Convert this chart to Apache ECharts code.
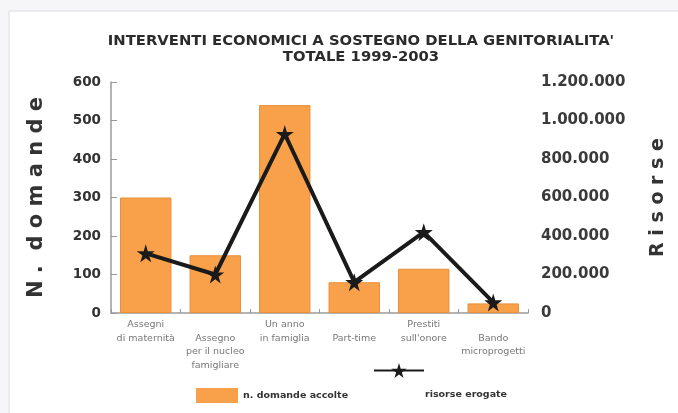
<!DOCTYPE html>
<html>
<head>
<meta charset="utf-8">
<script src="https://cdn.jsdelivr.net/npm/echarts@6/dist/echarts.min.js"></script>
<style>
  html, body { margin: 0; padding: 0; background: #f6f6f9; }
  #chart { width: 678px; height: 413px; }
</style>
</head>
<body>
<div id="chart"></div>
<script>
// Interventi economici a sostegno della genitorialità, totale 1999-2003
const categories = [
  'Assegni\ndi maternità',
  '\nAssegno\nper il nucleo\nfamigliare',
  'Un anno\nin famiglia',
  '\nPart-time',
  'Prestiti\nsull\'onore',
  '\nBando\nmicroprogetti'
];
const domandeAccolte = [300, 150, 540, 80, 115, 25];
const risorseErogate = [310000, 200000, 930000, 160000, 420000, 55000];
const leftTicks = { min: 0, max: 600, interval: 100 };
const rightTicks = { min: 0, max: 1200000, interval: 200000 };

const STAR = 'path://M50,0 L61,35 L98,35 L68,57 L79,91 L50,70 L21,91 L32,57 L2,35 L39,35 Z';
const FONT = 'DejaVu Sans';

function thousands(v) {
  return String(v).replace(/\B(?=(\d{3})+(?!\d))/g, '.');
}

const chart = echarts.init(document.getElementById('chart'));
chart.setOption({
  animation: false,
  backgroundColor: 'transparent',
  title: {
    text: "INTERVENTI ECONOMICI A SOSTEGNO DELLA GENITORIALITA'\nTOTALE 1999-2003",
    left: 356, top: 28, textAlign: 'center',
    textStyle: { fontFamily: FONT, fontWeight: 'bold', fontSize: 14.8, color: '#2b2b2b', lineHeight: 16 }
  },
  graphic: [
    { type: 'rect', z: -10, shape: { x: 9, y: 11, width: 700, height: 420 },
      style: { fill: '#ffffff', stroke: '#dadae2', lineWidth: 1 } },
    { type: 'text', left: 425, top: 390, z: 10,
      style: { text: 'risorse erogate', fontFamily: FONT, fontWeight: 'bold', fontSize: 9.5, fill: '#333' } }
  ],
  legend: [
    {
      data: [{ name: 'n. domande accolte', icon: 'rect', itemStyle: { borderWidth: 0 } }],
      left: 191, top: 383,
      itemWidth: 42, itemHeight: 15, itemGap: 6,
      textStyle: { fontFamily: FONT, fontWeight: 'bold', fontSize: 9.5, color: '#333' }
    },
    {
      data: ['risorse erogate'], left: 368, top: 356,
      itemWidth: 50, itemHeight: 19,
      formatter: () => ''
    }
  ],
  grid: { left: 111, right: 150, top: 82, bottom: 100, outerBoundsMode: 'none', containLabel: false },
  xAxis: {
    type: 'category', data: categories,
    axisLine: { lineStyle: { color: '#9a9a9a', width: 1.5 } },
    axisTick: { show: true, inside: true, length: 4, lineStyle: { color: '#9a9a9a' } },
    axisLabel: { fontFamily: FONT, fontSize: 9.5, color: '#777', lineHeight: 13.5, margin: 5, interval: 0 }
  },
  yAxis: [
    {
      type: 'value', min: leftTicks.min, max: leftTicks.max, interval: leftTicks.interval,
      name: 'N .  d o m a n d e', nameLocation: 'middle', nameGap: 64, nameRotate: 90,
      nameTextStyle: { fontFamily: FONT, fontWeight: 'bold', fontSize: 21, color: '#333' },
      axisLine: { show: true, lineStyle: { color: '#9a9a9a', width: 1.5 } },
      axisTick: { show: true, inside: true, length: 6, lineStyle: { color: '#9a9a9a' } },
      splitLine: { show: false },
      axisLabel: { fontFamily: FONT, fontWeight: 'bold', fontSize: 13.5, color: '#333', margin: 10 }
    },
    {
      type: 'value', min: rightTicks.min, max: rightTicks.max, interval: rightTicks.interval,
      name: 'R i s o r s e', nameLocation: 'middle', nameGap: 121, nameRotate: 90,
      nameTextStyle: { fontFamily: FONT, fontWeight: 'bold', fontSize: 19, color: '#333' },
      axisLine: { show: false }, axisTick: { show: false }, splitLine: { show: false },
      axisLabel: { fontFamily: FONT, fontWeight: 'bold', fontSize: 15, color: '#3a3a3a', margin: 13,
                   formatter: thousands }
    }
  ],
  series: [
    {
      name: 'n. domande accolte', type: 'bar', yAxisIndex: 0, data: domandeAccolte,
      barCategoryGap: '26%',
      itemStyle: { color: '#f8a14a', borderColor: '#e8903a', borderWidth: 1 }
    },
    {
      name: 'risorse erogate', type: 'line', yAxisIndex: 1, data: risorseErogate,
      symbol: STAR, symbolSize: 18,
      itemStyle: { color: '#1a1a1a' },
      lineStyle: { color: '#1a1a1a', width: 4 }
    }
  ]
});
</script>
</body>
</html>
